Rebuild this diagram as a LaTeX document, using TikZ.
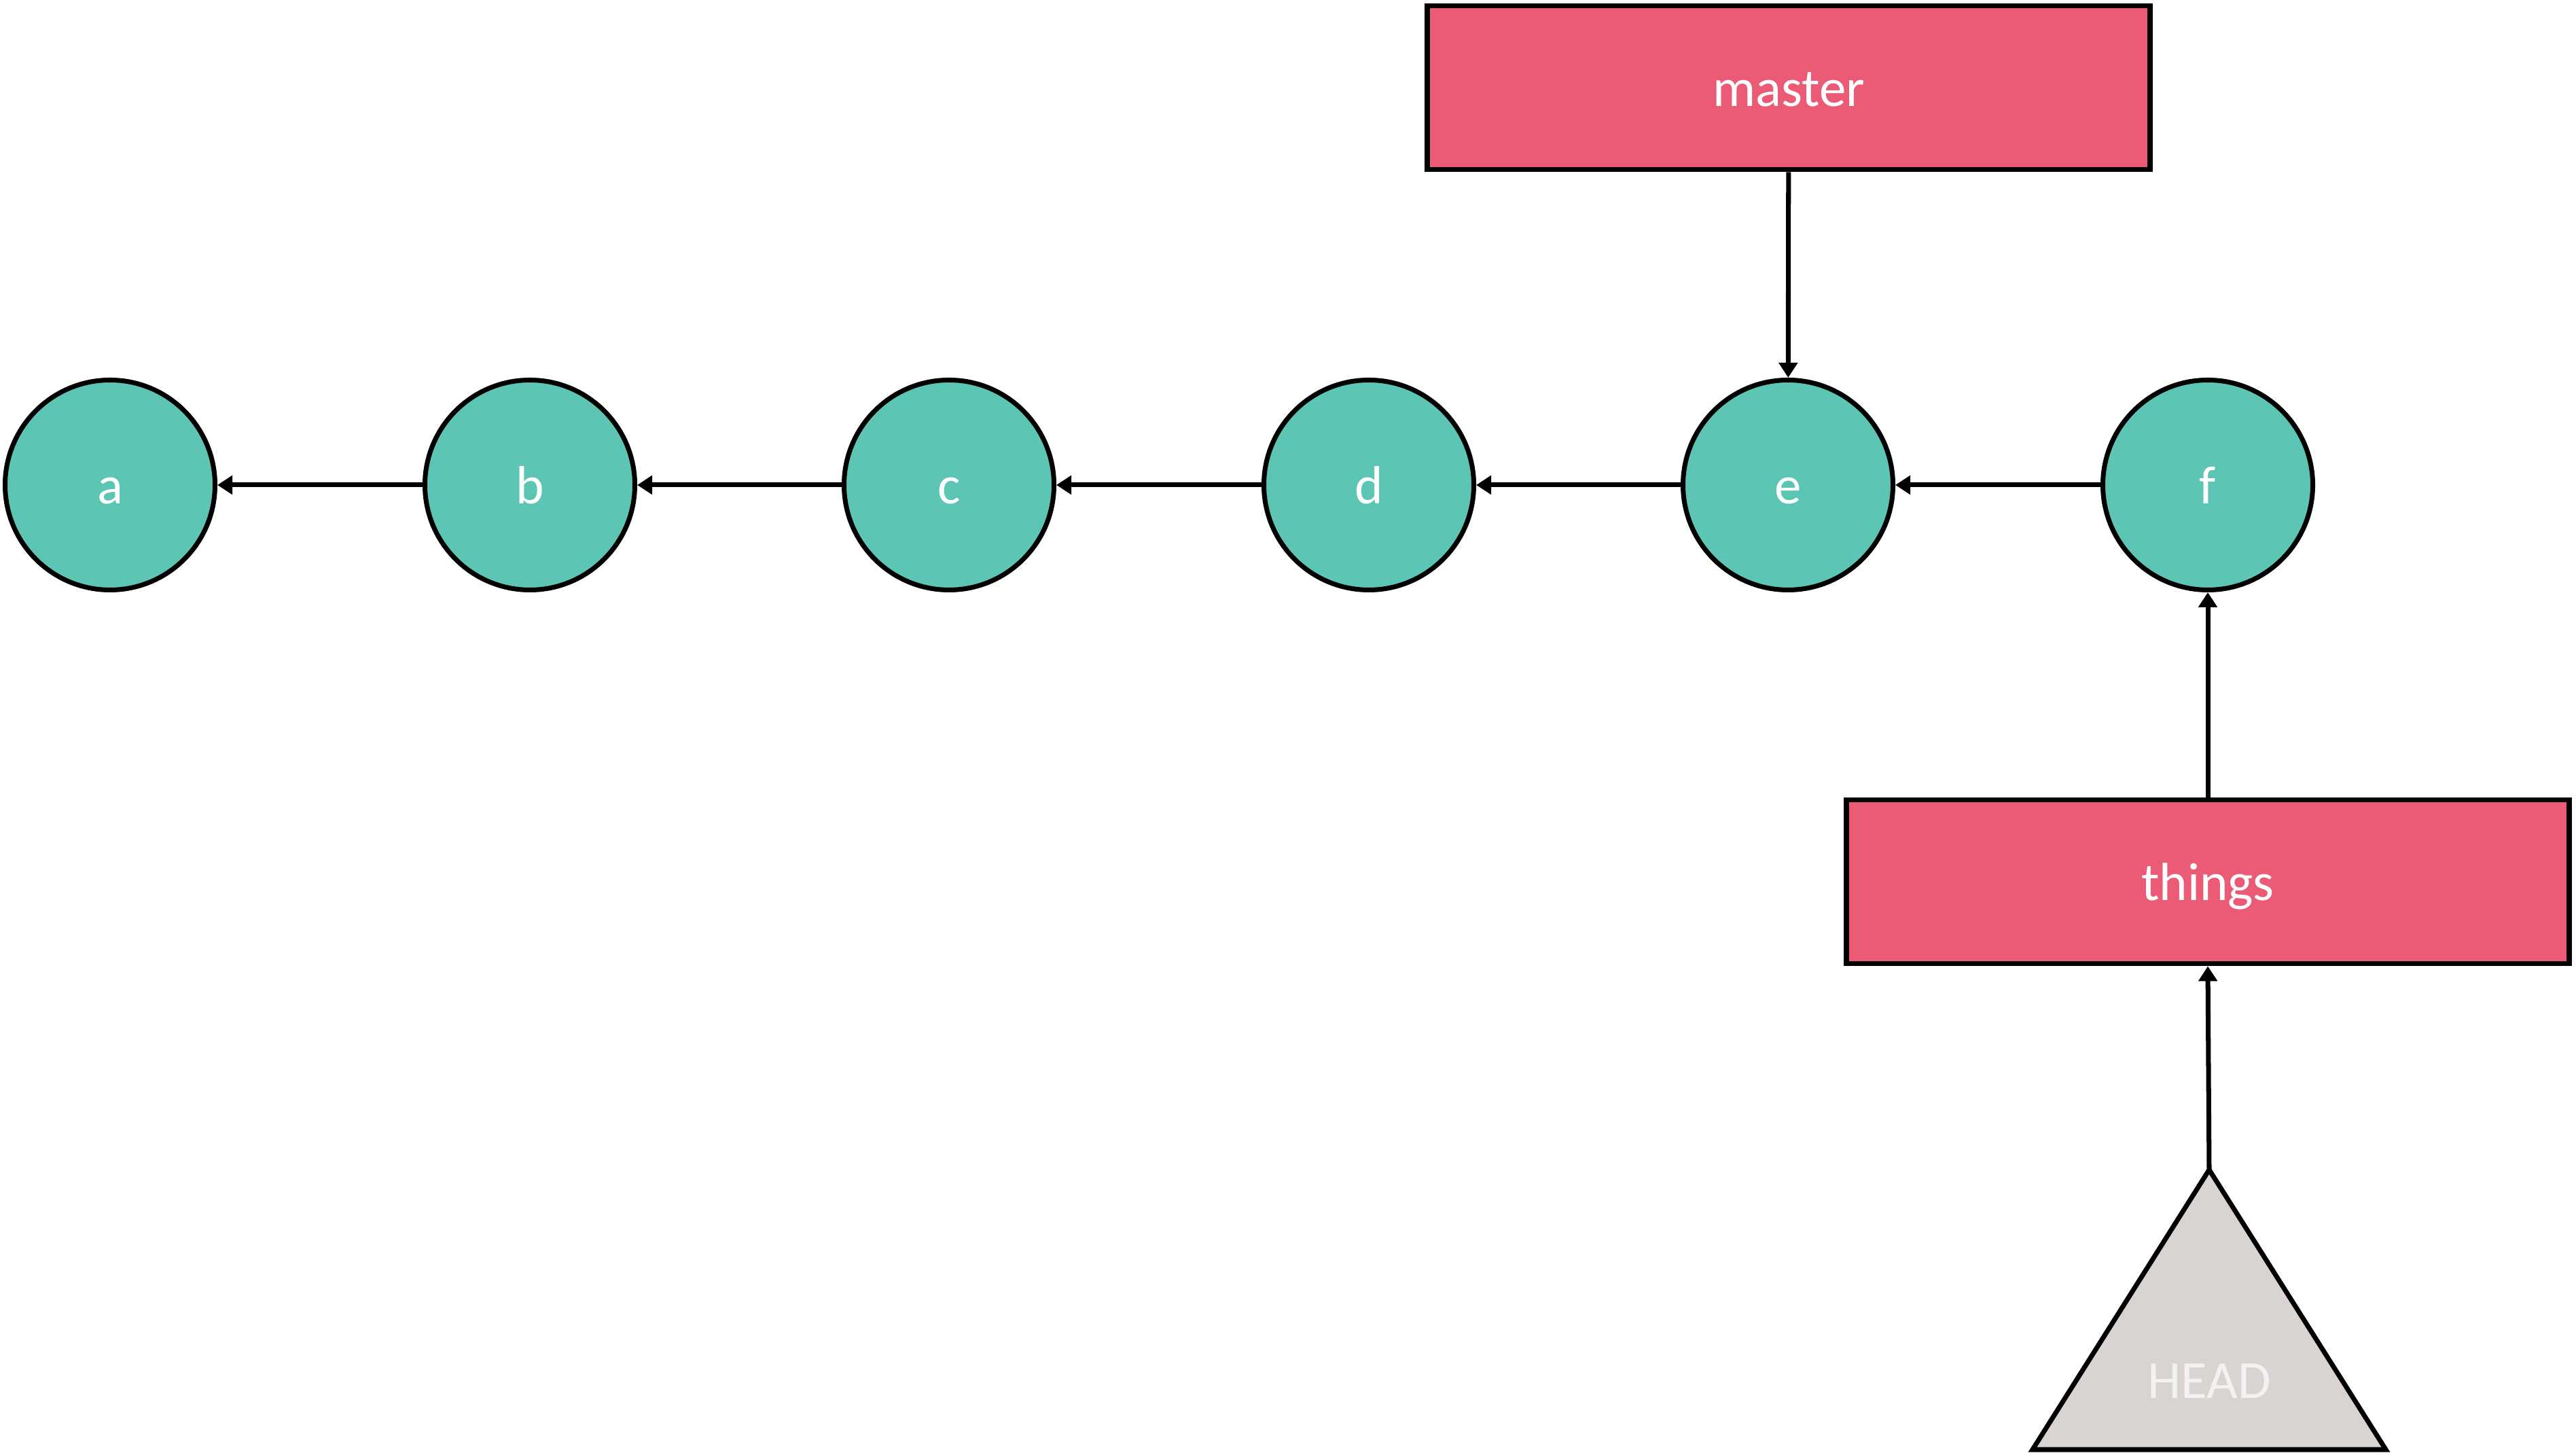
\documentclass[tikz,border=0pt]{standalone}
\usepackage{fontspec}
\setmainfont{Carlito}
\usetikzlibrary{arrows.meta}
\definecolor{commitfill}{HTML}{5DC5B4}
\definecolor{branchfill}{HTML}{EC5B75}
\definecolor{headfill}{HTML}{D9D3D1}
\begin{document}
\begin{tikzpicture}[
  every node/.style={font=\fontsize{22.5}{27}\selectfont, text height=15.5pt, text depth=0pt},
  commit/.style={circle, draw=black, line width=2pt, fill=commitfill, text=white, minimum size=3.09cm, inner sep=0pt},
  branch/.style={rectangle, draw=black, line width=2.2pt, fill=branchfill, text=white, minimum width=10.64cm, minimum height=2.41cm, inner sep=0pt},
  link/.style={line width=2pt, -{Triangle[length=0.22cm, width=0.27cm]}},
]
\useasboundingbox (0,0) rectangle (37.92,21.39);
\node[commit] (a) at (1.62,14.25) {a};
\node[commit] (b) at (7.80,14.25) {b};
\node[commit] (c) at (13.97,14.25) {c};
\node[commit] (d) at (20.15,14.25) {d};
\node[commit] (e) at (26.32,14.25) {e};
\node[commit] (f) at (32.50,14.25) {f};
\node[branch] (master) at (26.33,20.10) {master};
\node[branch] (things) at (32.50,8.41) {things};
\draw[line width=2pt, fill=headfill, line join=miter] (32.52,4.17) -- (35.12,0.05) -- (29.92,0.05) -- cycle;
\coordinate (headtop) at (32.52,4.17);
\node[text=white!95!black] (head) at (32.52,1.08) {HEAD};
\draw[link] (b) -- (a);
\draw[link] (c) -- (b);
\draw[link] (d) -- (c);
\draw[link] (e) -- (d);
\draw[link] (f) -- (e);
\draw[link] (master) -- (e);
\draw[link] (things) -- (f);
\draw[link] (headtop) -- (things.south);
\end{tikzpicture}
\end{document}
